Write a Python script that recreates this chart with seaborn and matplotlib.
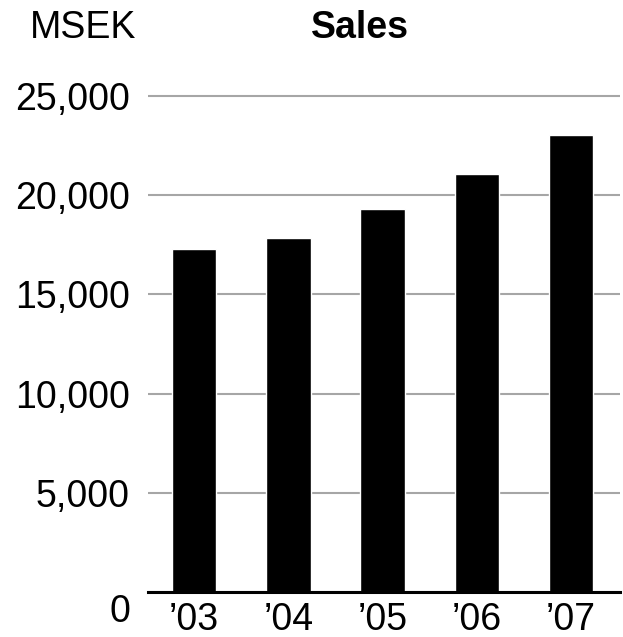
import matplotlib
matplotlib.use('Agg')
import matplotlib.pyplot as plt
import matplotlib.transforms as mtransforms
import seaborn as sns
import pandas as pd

# Sales per year, MSEK
years = ['\u201903', '\u201904', '\u201905', '\u201906', '\u201907']
sales = [17280, 17850, 19310, 21070, 23040]
y_ticks = [0, 5000, 10000, 15000, 20000, 25000]

df = pd.DataFrame({'Year': years, 'Sales': sales})

sns.set_style('white')
plt.rcParams['font.family'] = ['Liberation Sans', 'DejaVu Sans']
plt.rcParams['text.color'] = 'black'

fig = plt.figure(figsize=(6.23, 6.37), dpi=100)
ax = fig.add_axes([148 / 623, 1 - 592 / 637, (620 - 148) / 623, (592 - 91) / 637])

sns.barplot(x='Year', y='Sales', data=df, color='black', width=0.47,
            saturation=1, ax=ax, zorder=3)

ax.set_xlim(-0.49, 4.52)
ax.set_ylim(0, 25250)
ax.set_yticks(y_ticks)
ax.set_yticklabels([f'{v:,}' for v in y_ticks])
ax.yaxis.grid(True, color='#a6a6a6', linewidth=1.5, zorder=0)
ax.set_axisbelow(True)

for s in ['top', 'right', 'left']:
    ax.spines[s].set_visible(False)
ax.spines['bottom'].set_color('black')
ax.spines['bottom'].set_linewidth(2.2)
ax.spines['bottom'].set_zorder(4)

ax.tick_params(axis='both', length=0, labelsize=27, colors='black')
ax.tick_params(axis='y', pad=13)
ax.tick_params(axis='x', pad=7)
ax.set_xlabel('')
ax.set_ylabel('')

# the zero label sits a bit below the axis line
lbl0 = ax.get_yticklabels()[0]
lbl0.set_transform(lbl0.get_transform() + mtransforms.ScaledTranslation(0, -16 / 100, fig.dpi_scale_trans))

fig.text(30 / 623, 1 - 28 / 637, 'MSEK', fontsize=27, va='center', ha='left', color='black')
fig.text(360 / 623, 1 - 28 / 637, 'Sales', fontsize=27, fontweight='bold', va='center', ha='center', color='black')

plt.savefig('out.png', dpi=100)
